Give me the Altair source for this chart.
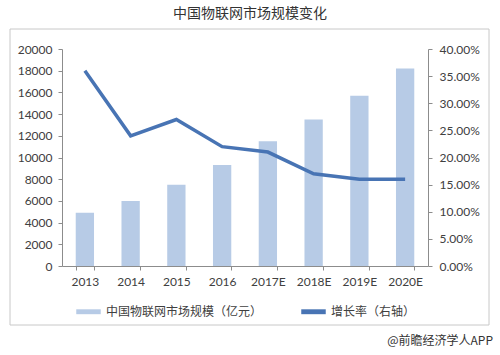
import altair as alt
import pandas as pd

years = ["2013", "2014", "2015", "2016", "2017E", "2018E", "2019E", "2020E"]
market = [4900, 6000, 7500, 9300, 11500, 13500, 15700, 18200]
growth = [0.36, 0.24, 0.27, 0.22, 0.21, 0.17, 0.16, 0.16]
left_ticks = [0, 2000, 4000, 6000, 8000, 10000, 12000, 14000, 16000, 18000, 20000]
right_ticks = [0, 0.05, 0.10, 0.15, 0.20, 0.25, 0.30, 0.35, 0.40]
bar_label = "中国物联网市场规模（亿元）"
line_label = "增长率（右轴）"
title_text = "中国物联网市场规模变化"
footer_text = "@前瞻经济学人APP"

bar_color = "#b7cbe6"
line_color = "#4874b4"
axis_color = "#8c8c8c"
label_color = "#404040"

df = pd.DataFrame({"year": years, "market": market, "growth": growth})

x_enc = alt.X(
    "year:N", sort=years,
    scale=alt.Scale(paddingInner=0.6, paddingOuter=0.3),
    axis=alt.Axis(title=None, labelAngle=0, tickBand="extent", labelPadding=6),
)

color_scale = alt.Scale(domain=[bar_label, line_label], range=[bar_color, line_color])
legend = alt.Legend(
    title=None, orient="none", legendX=14, legendY=250, direction="horizontal",
    symbolType="M-1,-0.2H1V0.2H-1Z", symbolSize=600, symbolStrokeWidth=0,
    labelFont="Noto Sans CJK SC", labelFontSize=12, labelColor=label_color,
    columnPadding=38, labelOffset=5,
)

bars = alt.Chart(df).transform_calculate(series=f"'{bar_label}'").mark_bar().encode(
    x=x_enc,
    y=alt.Y("market:Q", scale=alt.Scale(domain=[0, 20000], nice=False),
            axis=alt.Axis(title=None, orient="left", values=left_ticks, format="d", labelPadding=6)),
    color=alt.Color("series:N", scale=color_scale, legend=legend),
)

line = alt.Chart(df).transform_calculate(series=f"'{line_label}'").mark_line(strokeWidth=3.5).encode(
    x=x_enc,
    y=alt.Y("growth:Q", scale=alt.Scale(domain=[0, 0.4], nice=False),
            axis=alt.Axis(title=None, orient="right", values=right_ticks, format=".2%", labelPadding=7)),
    color=alt.Color("series:N", scale=color_scale, legend=legend),
)

frame = alt.Chart(alt.Data(values=[{"k": 1}])).mark_rect(filled=False, stroke="#c8c8c8", strokeWidth=1).encode(
    x=alt.value(-52), x2=alt.value(427), y=alt.value(-20), y2=alt.value(276)
)

footer = alt.Chart(alt.Data(values=[{"t": footer_text}])).mark_text(
    align="right", baseline="middle", font="Noto Sans CJK SC", fontSize=12, color="#333333"
).encode(x=alt.value(431), y=alt.value(292), text="t:N")

chart = alt.layer(frame, bars, line, footer).resolve_scale(y="independent").properties(
    width=366, height=217,
    autosize=alt.AutoSizeParams(type="none"),
    padding={"left": 62, "top": 49, "right": 72, "bottom": 89},
    title=alt.Title(title_text, fontSize=14, font="Noto Sans CJK SC", fontWeight="normal",
                    color="#333333", anchor="middle", offset=8, dx=5),
).configure_axis(
    grid=False, domainColor=axis_color, tickColor=axis_color, tickSize=4,
    labelFont="Lato", labelFontSize=12, labelColor=label_color,
).configure_view(stroke=None)

chart.save("out.html", embed_options={"renderer": "svg", "actions": False})
